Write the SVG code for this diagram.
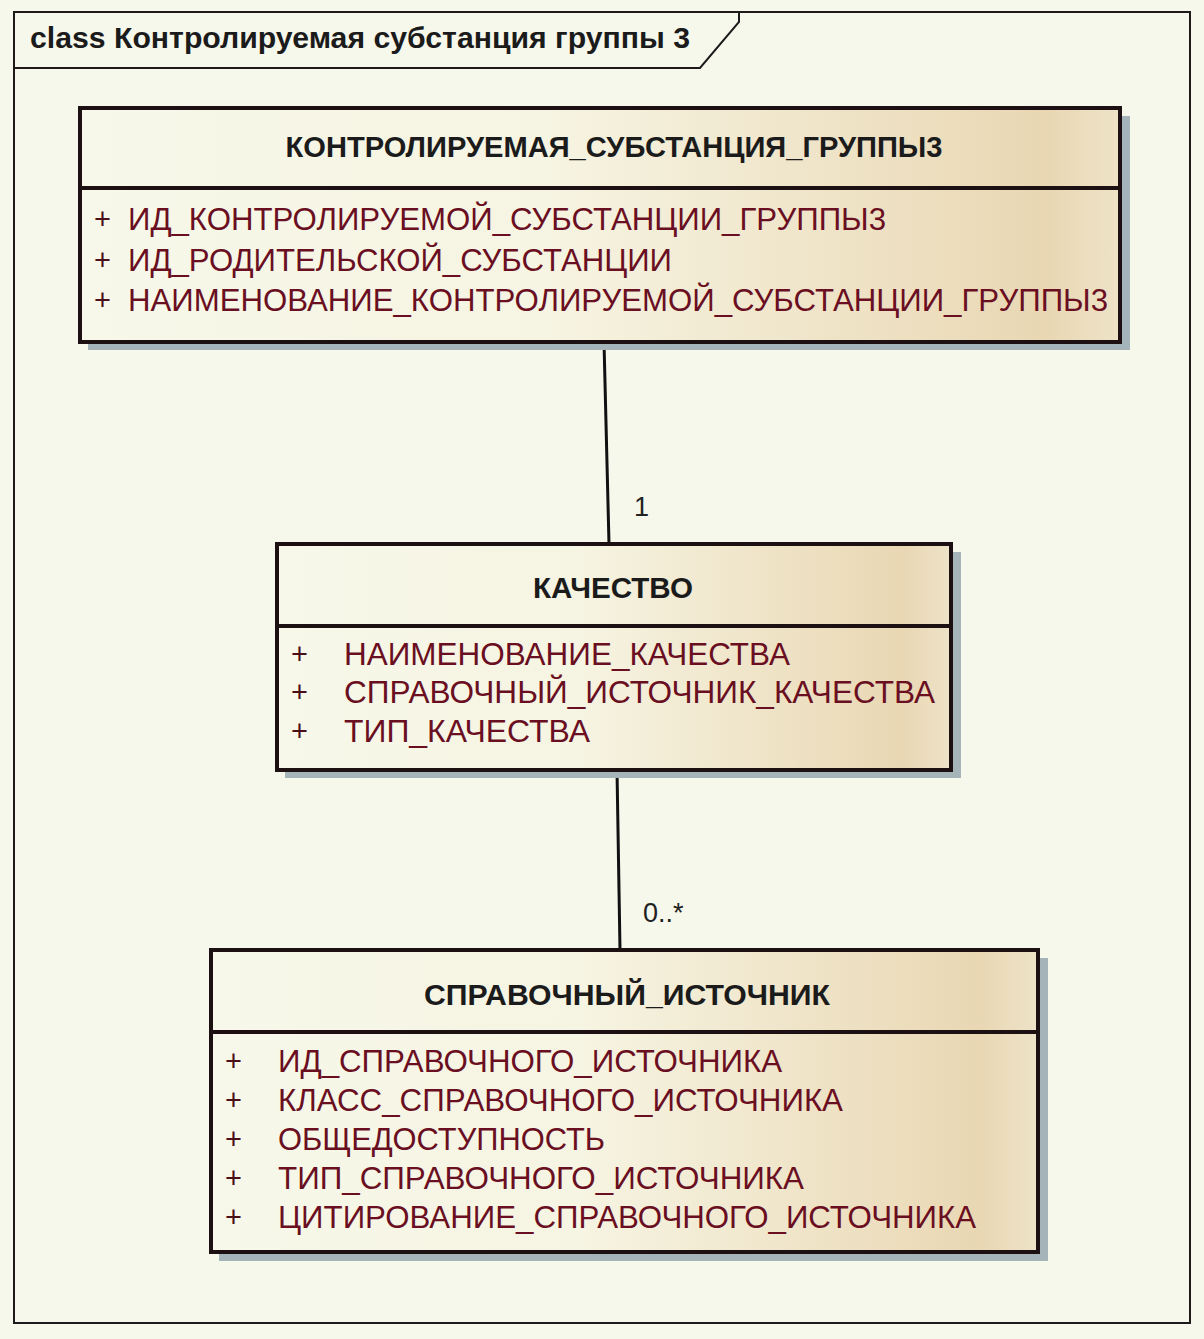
<svg xmlns="http://www.w3.org/2000/svg" width="1204" height="1339" viewBox="0 0 1204 1339">
<defs>
<linearGradient id="g" x1="0" y1="0" x2="1" y2="0">
<stop offset="0" stop-color="#f7f8ea"/>
<stop offset="0.45" stop-color="#f6f4e2"/>
<stop offset="0.8" stop-color="#eddfc0"/>
<stop offset="0.93" stop-color="#e9d7b3"/>
<stop offset="1" stop-color="#eee3c8"/>
</linearGradient>
<style>
.bg{fill:#f7f8ec}
.frame{fill:none;stroke:#1e1a1a;stroke-width:2}
.shadow{fill:#a5b4b9}
.box{fill:url(#g);stroke:#1c1012;stroke-width:4}
.div{stroke:#1c1012;stroke-width:4}
.title{font-family:"Liberation Sans",Arial,sans-serif;font-weight:bold;font-size:29px;fill:#1b1b1b;text-anchor:middle}
.attr{font-family:"Liberation Sans",Arial,sans-serif;font-size:31px;fill:#6a0f22}
.plus{font-family:"Liberation Sans",Arial,sans-serif;font-size:29px;fill:#4a0f18}
.lbl{font-family:"Liberation Sans",Arial,sans-serif;font-size:27px;fill:#222}
.ftitle{font-family:"Liberation Sans",Arial,sans-serif;font-weight:bold;font-size:29px;fill:#1b1b1b}
.conn{stroke:#111;stroke-width:3;fill:none}
</style>
</defs>
<rect class="bg" x="0" y="0" width="1204" height="1339"/>
<g id="frame">
<rect class="frame" x="14" y="12" width="1176" height="1311"/>
<path class="frame" d="M14 68 H700 L739 22 V12"/>
<text class="ftitle" x="30" y="48" textLength="660" lengthAdjust="spacingAndGlyphs">class Контролируемая субстанция группы 3</text>
</g>
<g id="connectors">
<line class="conn" x1="604" y1="342" x2="609" y2="544"/>
<text class="lbl" x="634" y="516">1</text>
<line class="conn" x1="617" y1="770" x2="620" y2="950"/>
<text class="lbl" x="643" y="922">0..*</text>
</g>
<g id="node1">
<rect class="shadow" x="88" y="116" width="1042" height="234"/>
<rect class="box" x="80" y="108" width="1040" height="234"/>
<line class="div" x1="80" y1="188" x2="1120" y2="188"/>
<text class="title" x="614" y="157" textLength="657" lengthAdjust="spacingAndGlyphs">КОНТРОЛИРУЕМАЯ_СУБСТАНЦИЯ_ГРУППЫ3</text>
<text class="plus" x="94" y="229">+</text>
<text class="attr" x="128" y="230" textLength="758" lengthAdjust="spacingAndGlyphs">ИД_КОНТРОЛИРУЕМОЙ_СУБСТАНЦИИ_ГРУППЫ3</text>
<text class="plus" x="94" y="270">+</text>
<text class="attr" x="128" y="271" textLength="544" lengthAdjust="spacingAndGlyphs">ИД_РОДИТЕЛЬСКОЙ_СУБСТАНЦИИ</text>
<text class="plus" x="94" y="310">+</text>
<text class="attr" x="128" y="311" textLength="980" lengthAdjust="spacingAndGlyphs">НАИМЕНОВАНИЕ_КОНТРОЛИРУЕМОЙ_СУБСТАНЦИИ_ГРУППЫ3</text>
</g>
<g id="node2">
<rect class="shadow" x="285" y="552" width="676" height="226"/>
<rect class="box" x="277" y="544" width="674" height="226"/>
<line class="div" x1="277" y1="626" x2="951" y2="626"/>
<text class="title" x="613" y="598" textLength="160" lengthAdjust="spacingAndGlyphs">КАЧЕСТВО</text>
<text class="plus" x="291" y="664">+</text>
<text class="attr" x="344" y="665" textLength="446" lengthAdjust="spacingAndGlyphs">НАИМЕНОВАНИЕ_КАЧЕСТВА</text>
<text class="plus" x="291" y="702">+</text>
<text class="attr" x="344" y="703" textLength="591" lengthAdjust="spacingAndGlyphs">СПРАВОЧНЫЙ_ИСТОЧНИК_КАЧЕСТВА</text>
<text class="plus" x="291" y="741">+</text>
<text class="attr" x="344" y="742" textLength="246" lengthAdjust="spacingAndGlyphs">ТИП_КАЧЕСТВА</text>
</g>
<g id="node3">
<rect class="shadow" x="219" y="958" width="829" height="303"/>
<rect class="box" x="211" y="950" width="827" height="302"/>
<line class="div" x1="211" y1="1032" x2="1038" y2="1032"/>
<text class="title" x="627" y="1005" textLength="406" lengthAdjust="spacingAndGlyphs">СПРАВОЧНЫЙ_ИСТОЧНИК</text>
<text class="plus" x="225" y="1071">+</text>
<text class="attr" x="278" y="1072" textLength="504" lengthAdjust="spacingAndGlyphs">ИД_СПРАВОЧНОГО_ИСТОЧНИКА</text>
<text class="plus" x="225" y="1110">+</text>
<text class="attr" x="278" y="1111" textLength="565" lengthAdjust="spacingAndGlyphs">КЛАСС_СПРАВОЧНОГО_ИСТОЧНИКА</text>
<text class="plus" x="225" y="1149">+</text>
<text class="attr" x="278" y="1150" textLength="327" lengthAdjust="spacingAndGlyphs">ОБЩЕДОСТУПНОСТЬ</text>
<text class="plus" x="225" y="1188">+</text>
<text class="attr" x="278" y="1189" textLength="526" lengthAdjust="spacingAndGlyphs">ТИП_СПРАВОЧНОГО_ИСТОЧНИКА</text>
<text class="plus" x="225" y="1227">+</text>
<text class="attr" x="278" y="1228" textLength="698" lengthAdjust="spacingAndGlyphs">ЦИТИРОВАНИЕ_СПРАВОЧНОГО_ИСТОЧНИКА</text>
</g>
</svg>
